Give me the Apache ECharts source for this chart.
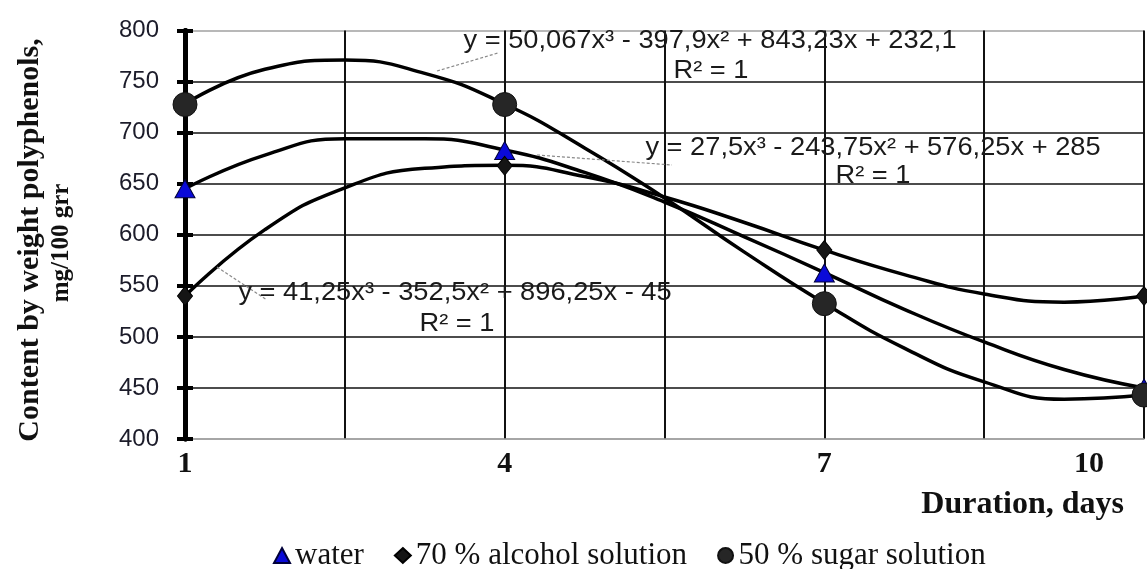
<!DOCTYPE html>
<html><head><meta charset="utf-8">
<script src="https://cdn.jsdelivr.net/npm/echarts@6/dist/echarts.min.js"></script>
<style>html,body{margin:0;padding:0;background:#fff}#c{width:1147px;height:569px}</style>
</head><body><div id="c"></div>
<script>
// ---- data ----
// x positions (days) along the axis; gridlines every 1.5 days, labels every 3 days
const axisCategories = ['1', '1.75', '2.5', '3.25', '4', '4.75', '5.5', '6.25', '7', '7.75', '8.5', '9.25', '10'];
// measured points
const sampleDays = ['1', '4', '7', '10'];
const water = [645, 682.5, 562.5, 450];
const alcohol = [540, 667.5, 585, 540];
const sugar = [727.5, 727.5, 532.5, 443];
// trend curves at every axis position
const waterTrend = [645, 678, 694, 694, 683, 661, 632, 598, 563, 527, 495, 468, 450];
const alcoholTrend = [540, 605, 646, 665, 668, 657, 637, 612, 585, 561, 542, 534, 540];
const sugarTrend = [728, 762, 771, 758, 728, 685, 636, 583, 533, 489, 456, 439, 443];
const seriesNames = ['water', '70 % alcohol solution', '50 % sugar solution'];
const yMin = 400, yMax = 800, yStep = 50;
const equationTexts = [
  'y = 50,067x³ - 397,9x² + 843,23x + 232,1',
  'y = 27,5x³ - 243,75x² + 576,25x + 285',
  'y = 41,25x³ - 352,5x² + 896,25x - 45'
];
const r2Text = 'R² = 1';
const yTitle1 = 'Content by weight polyphenols,';
const yTitle2 = 'mg/100 grr';
const xTitle = 'Duration, days';

const pairs = arr => sampleDays.map((d, i) => [d, arr[i]]);
const SERIF = '"Liberation Serif", "Times New Roman", serif';
const SANS = '"Liberation Sans", Arial, sans-serif';

const chart = echarts.init(document.getElementById('c'));
const eqText = (text, x, y) => ({
  type: 'text', x, y, z: 10, scaleX: 1.09,
  style: { text, font: '25px ' + SANS, fill: '#1a1a1a', textAlign: 'center', textVerticalAlign: 'middle' }
});
const leader = (x1, y1, x2, y2) => ({
  type: 'line', z: 5, shape: { x1, y1, x2, y2 },
  style: { stroke: '#8a8a8a', lineWidth: 1.2, lineDash: [3, 2] }
});
const trend = (name, data) => ({
  name, type: 'line', data, smooth: 0.5, symbol: 'none', silent: true,
  lineStyle: { color: '#000', width: 3.5 }, z: 2
});

chart.setOption({
  animation: false,
  backgroundColor: '#fff',
  grid: { left: 185, right: 3, top: 30.5, bottom: 130 },
  xAxis: {
    type: 'category', data: axisCategories, boundaryGap: false,
    axisLine: { show: true, lineStyle: { color: '#a0a0a0', width: 1.5 } },
    axisTick: { show: false },
    axisLabel: {
      interval: 3, margin: 10, color: '#111', fontFamily: SERIF, fontWeight: 'bold', fontSize: 30,
      formatter: (v, i) => i === axisCategories.length - 1 ? '{l|' + v + '}' : v,
      rich: { l: { padding: [0, 110, 0, 0], fontFamily: SERIF, fontWeight: 'bold', fontSize: 30, color: '#111' } }
    },
    splitLine: { show: true, interval: 1, lineStyle: { color: '#111', width: 2 } }
  },
  yAxis: [{
    type: 'value', min: yMin, max: yMax, interval: yStep,
    axisLine: { show: true, lineStyle: { color: '#000', width: 5 } },
    axisTick: { show: true, length: 8, lineStyle: { color: '#000', width: 4 } },
    axisLabel: { margin: 26, fontFamily: SANS, fontSize: 24, color: '#1c1c2a' },
    splitLine: { show: true, lineStyle: { color: ['#a0a0a0', '#111', '#111', '#111', '#111', '#111', '#111', '#111', '#a0a0a0'], width: 1.5 } }
  }, {
    type: 'value', min: yMin, max: yMax, interval: yStep, position: 'left',
    axisLine: { show: true, lineStyle: { color: '#000', width: 5 } },
    axisTick: { show: true, inside: true, length: 8, lineStyle: { color: '#000', width: 4 } },
    axisLabel: { show: false }, splitLine: { show: false }
  }],
  legend: {
    left: 268, top: 535, itemWidth: 16, itemHeight: 15, itemGap: 30,
    textStyle: { fontFamily: SERIF, fontSize: 31, color: '#111' },
    data: [
      { name: seriesNames[0], icon: 'triangle' },
      { name: seriesNames[1], icon: 'diamond' },
      { name: seriesNames[2], icon: 'circle' }
    ]
  },
  series: [
    trend('water trend', waterTrend),
    trend('alcohol trend', alcoholTrend),
    trend('sugar trend', sugarTrend),
    { name: seriesNames[0], type: 'scatter', data: pairs(water),
      symbol: 'triangle', symbolSize: [20, 18],
      itemStyle: { color: '#0a0ad8', borderColor: '#00003a', borderWidth: 1, opacity: 1 }, z: 3 },
    { name: seriesNames[1], type: 'scatter', data: pairs(alcohol),
      symbol: 'diamond', symbolSize: [15, 19],
      itemStyle: { color: '#151515', borderColor: '#000', borderWidth: 1, opacity: 1 }, z: 4 },
    { name: seriesNames[2], type: 'scatter', data: pairs(sugar),
      symbol: 'circle', symbolSize: 24,
      itemStyle: { color: '#262626', borderColor: '#111', borderWidth: 1, opacity: 1 }, z: 5 }
  ],
  graphic: [
    { type: 'text', x: 30, y: 240, rotation: Math.PI / 2, z: 10,
      style: { text: yTitle1, font: 'bold 30px ' + SERIF, fill: '#111', textAlign: 'center', textVerticalAlign: 'middle' } },
    { type: 'text', x: 62, y: 243, rotation: Math.PI / 2, z: 10,
      style: { text: yTitle2, font: 'bold 25px ' + SERIF, fill: '#111', textAlign: 'center', textVerticalAlign: 'middle' } },
    { type: 'text', x: 1124, y: 505, z: 10,
      style: { text: xTitle, font: 'bold 32px ' + SERIF, fill: '#111', textAlign: 'right', textVerticalAlign: 'middle' } },
    eqText(equationTexts[0], 710, 41),
    eqText(r2Text, 711, 71),
    eqText(equationTexts[1], 873, 148),
    eqText(r2Text, 873, 176),
    eqText(equationTexts[2], 455, 293),
    eqText(r2Text, 457, 324),
    leader(437, 71, 498, 53),
    leader(537, 155, 672, 165),
    leader(217, 267, 267, 300)
  ]
});
</script></body></html>
